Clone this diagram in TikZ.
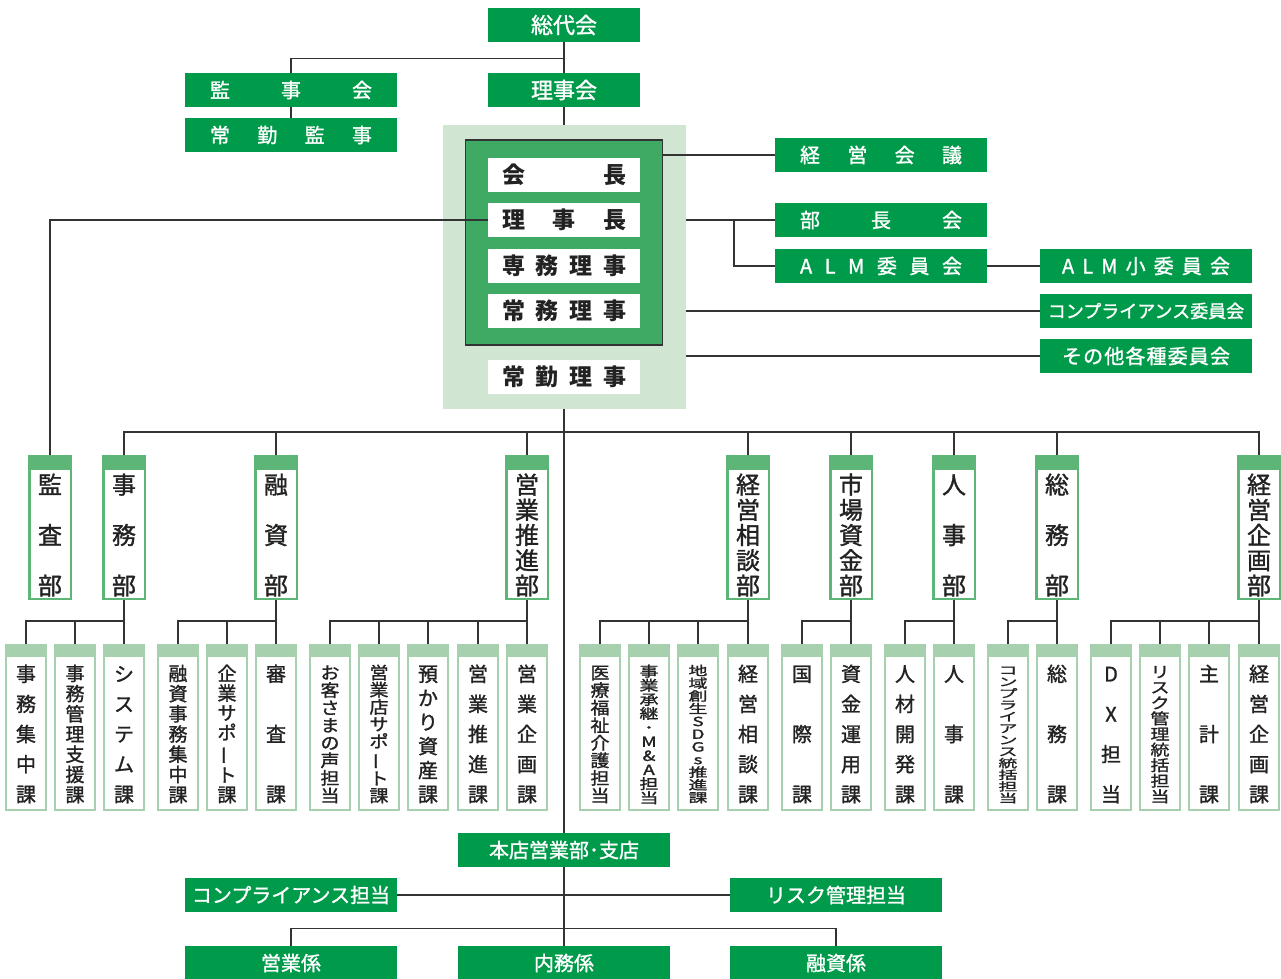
\documentclass[tikz,border=0pt]{standalone}
\usepackage{fontspec}
\setmainfont{Noto Sans CJK JP}
\newfontfamily\medfont{Noto Sans CJK JP}[FakeBold=1.3]
\usepackage{graphicx}
\usepackage{xcolor}
\definecolor{kgreen}{HTML}{009A4B}
\definecolor{dgreen}{HTML}{3EAA64}
\definecolor{lgreen}{HTML}{D0E5D2}
\definecolor{bugreen}{HTML}{5DB578}
\definecolor{kagreen}{HTML}{A6D0AE}
\definecolor{linegray}{HTML}{333333}
\definecolor{txt}{HTML}{222222}

\makeatletter
\def\vs@stop{vs@stop}
% stacked (vertical) text: total height, top band, size, yscale, chars
\newcommand{\vstack}[5]{%
  \parbox[c][#1][s]{40pt}{\centering\medfont\fontsize{#3}{0}\selectfont
    \lineskip=0pt\def\vs@ys{#4}%
    \vspace*{#2}\vs@first#5\vs@stop\par}}
\def\vs@char#1{\scalebox{1}[\vs@ys]{\rule[-.12em]{0pt}{1em}#1}}
\def\vs@first#1{\vs@char{#1}\vs@next}
\def\vs@next#1{\ifx#1\vs@stop\else\par\vfill\vs@char{#1}\expandafter\vs@next\fi}
% spaced out text on one line
\def\sp@first#1{#1\sp@next}
\def\sp@next#1{\ifx#1\vs@stop\else\hfill#1\expandafter\sp@next\fi}
\newcommand{\spread}[2]{\makebox[#1]{\sp@first#2\vs@stop}}
\makeatother
\newcommand{\vbar}{\rotatebox[origin=c]{90}{ー}}
\newcommand{\bu}[1]{\vstack{137pt}{15pt}{24}{1}{#1}}
\newcommand{\ka}[3]{\vstack{151pt}{13pt}{#1}{#2}{#3}}

\begin{document}
\begin{tikzpicture}[
    x=1pt, y=-1pt,
    conn/.style={draw=linegray, line width=1.2pt},
    gbox/.style={fill=kgreen, text=white, minimum width=212pt, minimum height=34pt, inner sep=0pt, font=\medfont\fontsize{20}{24}\selectfont},
    wbox/.style={fill=white, text=txt, minimum width=152pt, minimum height=34pt, inner sep=0pt, font=\fontsize{23}{26}\selectfont\bfseries},
    bubox/.style={draw=bugreen, line width=2.5pt, fill=white, text=txt, minimum width=41.5pt, minimum height=142.5pt, inner sep=0pt,
      path picture={\fill[bugreen] (path picture bounding box.north west) rectangle ([yshift=-14pt]path picture bounding box.north east);}},
    kabox/.style={draw=kagreen, line width=2.5pt, fill=white, text=txt, minimum width=33.5pt, minimum height=164.5pt, inner sep=0pt,
      path picture={\fill[kagreen] (path picture bounding box.north west) rectangle ([yshift=-12pt]path picture bounding box.north east);}}
]
    \useasboundingbox (0,0) rectangle (1281,978);
    \fill[white] (0,0) rectangle (1281,978);

    % top
    \node[gbox, minimum width=152pt, font=\medfont\fontsize{22}{26}\selectfont] (soudai) at (564,25) {総代会};
    \node[gbox, minimum width=152pt, font=\medfont\fontsize{22}{26}\selectfont] (rijikai) at (564,90) {理事会};
    \node[gbox] (kanjikai) at (291,90) {\spread{162pt}{監事会}};
    \node[gbox] (joukin) at (291,135) {\spread{162pt}{常勤監事}};

    % officers
    \node[fill=lgreen, minimum width=243pt, minimum height=284pt, inner sep=0pt] (yakuin) at (564,267) {};
    \node[fill=dgreen, draw=linegray, line width=1.2pt, minimum width=197pt, minimum height=205pt, inner sep=0pt] (joumukai) at (564,242.5) {};
    \node[wbox] (kaichou) at (564,175) {\spread{124pt}{会長}};
    \node[wbox] (richou) at (564,220) {\spread{124pt}{理事長}};
    \node[wbox] (senmu) at (564,266) {\spread{124pt}{専務理事}};
    \node[wbox] (joumu) at (564,311) {\spread{124pt}{常務理事}};
    \node[wbox] (joukinriji) at (564,377) {\spread{124pt}{常勤理事}};

    % committees
    \node[gbox] (keieikaigi) at (881,155) {\spread{162pt}{経営会議}};
    \node[gbox] (buchou) at (881,220) {\spread{162pt}{部長会}};
    \node[gbox] (alm) at (881,266) {\spread{162pt}{ALM委員会}};
    \node[gbox] (almsub) at (1146,266) {\spread{168pt}{ALM小委員会}};
    \node[gbox, font=\medfont\fontsize{18}{22}\selectfont] (compiin) at (1146,311) {コンプライアンス委員会};
    \node[gbox] (sonota) at (1146,356) {\spread{168pt}{その他各種委員会}};
    \coordinate (almbr) at (734,220);

    % departments
    \node[bubox] (bu1) at (50,527.5)   {\bu{監査部}};
    \node[bubox] (bu2) at (124,527.5)  {\bu{事務部}};
    \node[bubox] (bu3) at (276,527.5)  {\bu{融資部}};
    \node[bubox] (bu4) at (527,527.5)  {\bu{営業推進部}};
    \node[bubox] (bu5) at (748,527.5)  {\bu{経営相談部}};
    \node[bubox] (bu6) at (851,527.5)  {\bu{市場資金部}};
    \node[bubox] (bu7) at (954,527.5)  {\bu{人事部}};
    \node[bubox] (bu8) at (1057,527.5) {\bu{総務部}};
    \node[bubox] (bu9) at (1259,527.5) {\bu{経営企画部}};

    % sections
    \node[kabox] (ka21) at (26,727.5)   {\ka{20}{1}{事務集中課}};
    \node[kabox] (ka22) at (75,727.5)   {\ka{19}{1}{事務管理支援課}};
    \node[kabox] (ka23) at (124,727.5)  {\ka{20}{1}{システム課}};
    \node[kabox] (ka31) at (178,727.5)  {\ka{19}{1}{融資事務集中課}};
    \node[kabox] (ka32) at (227,727.5)  {\ka{19}{1}{企業サポ\vbar ト課}};
    \node[kabox] (ka33) at (276,727.5)  {\ka{20}{1}{審査課}};
    \node[kabox] (ka41) at (330,727.5)  {\ka{19}{.9}{お客さまの声担当}};
    \node[kabox] (ka42) at (379,727.5)  {\ka{19}{.9}{営業店サポ\vbar ト課}};
    \node[kabox] (ka43) at (428,727.5)  {\ka{20}{1}{預かり資産課}};
    \node[kabox] (ka44) at (478,727.5)  {\ka{20}{1}{営業推進課}};
    \node[kabox] (ka45) at (527,727.5)  {\ka{20}{1}{営業企画課}};
    \node[kabox] (ka51) at (600,727.5)  {\ka{19}{.9}{医療福祉介護担当}};
    \node[kabox] (ka52) at (649,727.5)  {\ka{19}{.74}{事業承継･M\&A担当}};
    \node[kabox] (ka53) at (698,727.5)  {\ka{19}{.66}{地域創生SDGs推進課}};
    \node[kabox] (ka54) at (748,727.5)  {\ka{20}{1}{経営相談課}};
    \node[kabox] (ka61) at (802,727.5)  {\ka{20}{1}{国際課}};
    \node[kabox] (ka62) at (851,727.5)  {\ka{20}{1}{資金運用課}};
    \node[kabox] (ka71) at (905,727.5)  {\ka{20}{1}{人材開発課}};
    \node[kabox] (ka72) at (954,727.5)  {\ka{20}{1}{人事課}};
    \node[kabox] (ka81) at (1008,727.5) {\ka{19}{.6}{コンプライアンス統括担当}};
    \node[kabox] (ka82) at (1057,727.5) {\ka{20}{1}{総務課}};
    \node[kabox] (ka91) at (1111,727.5) {\ka{20}{1}{DX担当}};
    \node[kabox] (ka92) at (1160,727.5) {\ka{19}{.8}{リスク管理統括担当}};
    \node[kabox] (ka93) at (1209,727.5) {\ka{20}{1}{主計課}};
    \node[kabox] (ka94) at (1259,727.5) {\ka{20}{1}{経営企画課}};

    % branches
    \node[gbox] (honten) at (564,850) {本店営業部･支店};
    \node[gbox] (comptan) at (291,895) {コンプライアンス担当};
    \node[gbox] (risktan) at (836,895) {リスク管理担当};
    \node[gbox] (eigyou) at (291,963) {営業係};
    \node[gbox] (naimu) at (564,963) {内務係};
    \node[gbox] (yushikakari) at (836,963) {融資係};

    % connectors
    \draw[conn] (soudai) -- (rijikai);
    \draw[conn] (soudai.south) -- ++(0,16) -| (kanjikai.north);
    \draw[conn] (kanjikai) -- (joukin);
    \draw[conn] (rijikai) -- (yakuin);
    \draw[conn] (joumukai.east |- keieikaigi.west) -- (keieikaigi.west);
    \draw[conn] (yakuin.east |- buchou.west) -- (buchou.west);
    \draw[conn] (almbr) |- (alm.west);
    \draw[conn] (alm) -- (almsub);
    \draw[conn] (yakuin.east |- compiin.west) -- (compiin.west);
    \draw[conn] (yakuin.east |- sonota.west) -- (sonota.west);
    \draw[conn] (richou.west) -| (bu1.north);
    \draw[conn] (yakuin.south) -- (honten.north);

    \draw[conn] (bu2.north) -- ++(0,-23) -| (bu9.north);
    \foreach \b in {3,...,8}
        \draw[conn] (bu\b.north) -- ++(0,-23);

    \foreach \b/\f/\l in {2/21/23, 3/31/33, 4/41/45, 5/51/54, 6/61/62, 7/71/72, 8/81/82, 9/91/94} {
        \draw[conn] (bu\b.south) -- (ka\l.north);
        \draw[conn] (ka\f.north) -- ++(0,-23) -| (ka\l.north);
    }
    \foreach \k in {22,32,42,43,44,52,53,92,93}
        \draw[conn] (ka\k.north) -- ++(0,-23);

    \draw[conn] (honten) -- (naimu);
    \draw[conn] (comptan) -- (risktan);
    \draw[conn] (eigyou.north) -- ++(0,-17) -| (yushikakari.north);
\end{tikzpicture}
\end{document}
